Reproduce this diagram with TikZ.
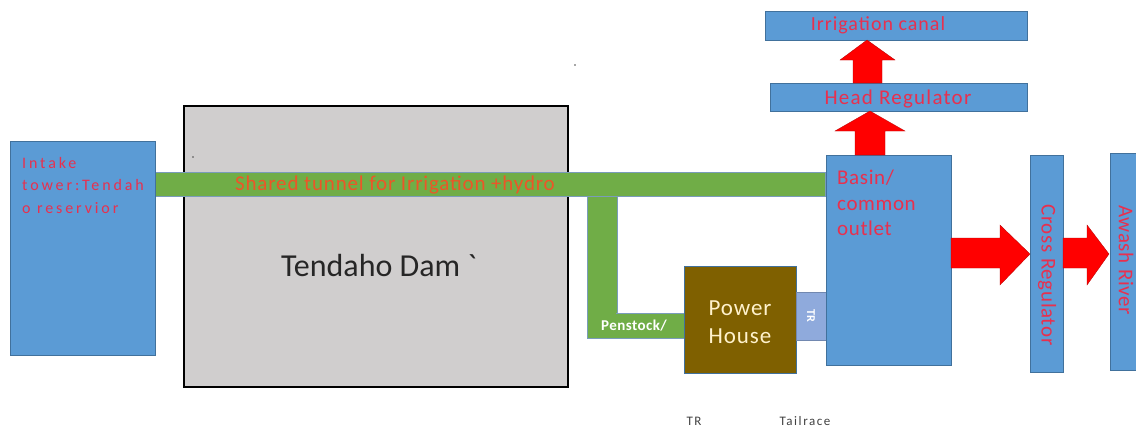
\documentclass[tikz,border=0pt]{standalone}
\usepackage{fontspec}
\setmainfont{Carlito}
\definecolor{boxblue}{RGB}{91,155,213}
\definecolor{edgeblue}{RGB}{65,113,156}
\definecolor{tgreen}{RGB}{112,173,71}
\definecolor{brownph}{RGB}{127,96,0}
\definecolor{damgray}{RGB}{208,206,206}
\definecolor{trblue}{RGB}{143,170,220}
\definecolor{lblred}{RGB}{232,48,78}
\definecolor{tunnelred}{RGB}{236,86,40}
\definecolor{cream}{RGB}{255,242,204}
\definecolor{arrowred}{RGB}{255,0,0}
\newcommand\lsp[1]{\addfontfeature{LetterSpace=#1}}
\tikzset{
  shape box/.style={rectangle, inner sep=0pt, outer sep=0pt, anchor=north west, line width=0.6pt},
  bluebox/.style={shape box, fill=boxblue, draw=edgeblue},
  greenbox/.style={shape box, fill=tgreen, draw=edgeblue!70},
  dambox/.style={shape box, fill=damgray, draw=black, line width=2pt},
  redlbl/.style={text=lblred, inner sep=0pt, align=left},
  blockarrow/.style={fill=arrowred, draw=arrowred!70!black, line width=0.3pt},
}
\begin{document}
\begin{tikzpicture}[x=1pt,y=-1pt]
\useasboundingbox (0,0) rectangle (1136,432);
% dam
\node[dambox, minimum width=384pt, minimum height=281pt] (dam) at (184,106) {};
\node[font=\fontsize{32}{36}\selectfont, text=black!85] (damtxt) at (379,266) {Tendaho Dam {\addfontfeature{Ligatures=TeXOff}`}};
% stray marks
\fill[black!70] (193,157) circle (0.9pt);
\fill[black!70] (575,65) circle (0.9pt);
% tunnel
\node[greenbox, minimum width=670pt, minimum height=24pt] (tunnel) at (155,172) {};
\node[text=tunnelred, font=\fontsize{21}{24}\selectfont\lsp{4}, inner sep=0pt] (tuntxt) at (395,185) {Shared tunnel for Irrigation +hydro};
% intake
\node[bluebox, minimum width=145pt, minimum height=214pt] (intake) at (10,141) {};
\node[redlbl, anchor=north west, font=\fontsize{16}{22.5}\selectfont\lsp{18}] (intaketxt) at ([xshift=12pt,yshift=-16pt]intake.north west) {Intake\\tower:Tendah\\o reservior};
% penstock
\node[greenbox, minimum width=30pt, minimum height=118pt] (pvert) at (587,196) {};
\node[greenbox, minimum width=97pt, minimum height=25pt] (phor) at (587,313) {};
\fill[tgreen] (588,305) rectangle (616,316);
\node[text=white, font=\fontsize{15}{17}\selectfont\bfseries\lsp{3}, inner sep=0pt] (penstxt) at (634,326) {Penstock/};
% power house
\node[shape box, fill=brownph, draw=edgeblue, minimum width=112pt, minimum height=107pt] (ph) at (684,266) {};
\node[text=cream, font=\fontsize{23}{28}\selectfont\lsp{4}, align=center] (phtxt) at (740,322) {Power\\House};
% TR box
\node[shape box, fill=trblue, draw=trblue!80!black, minimum width=30pt, minimum height=48pt] (tr) at (796,292) {};
\node[text=white, font=\fontsize{12}{14}\selectfont\bfseries, rotate=-90] (trtxt) at (tr.center) {TR};
% basin
\node[bluebox, minimum width=125pt, minimum height=210pt] (basin) at (826,155) {};
\node[redlbl, anchor=north west, font=\fontsize{21}{25.5}\selectfont\lsp{3}] (basintxt) at ([xshift=11pt,yshift=-15pt]basin.north west) {Basin/\\common\\outlet};
% head regulator and canal
\node[bluebox, minimum width=257pt, minimum height=28pt] (head) at (770,83) {};
\node[text=lblred, font=\fontsize{21}{24}\selectfont\lsp{6}, inner sep=0pt] (headtxt) at (898,99) {Head Regulator};
\node[bluebox, minimum width=262pt, minimum height=29pt] (canal) at (765,11) {};
\node[text=lblred, font=\fontsize{20}{24}\selectfont\lsp{5}, inner sep=0pt] (canaltxt) at (878,25) {Irrigation canal};
% cross regulator and Awash river
\node[bluebox, minimum width=33pt, minimum height=217pt] (cross) at (1030,155) {};
\node[text=lblred, font=\fontsize{21}{24}\selectfont\lsp{3}, rotate=-90, inner sep=0pt] (crosstxt) at (1047,275) {Cross Regulator};
\node[bluebox, minimum width=30pt, minimum height=217pt] (awash) at (1110,153) {};
\node[text=lblred, font=\fontsize{21}{24}\selectfont\lsp{3}, rotate=-90, inner sep=0pt] (awashtxt) at (1126,260) {Awash River};
% block arrows
\path[blockarrow] (855,155) -- (855,131) -- (835,131) -- (870,111) -- (905,131) -- (885,131) -- (885,155) -- cycle;
\path[blockarrow] (853,83) -- (853,60) -- (840,60) -- (867,40) -- (895,60) -- (882,60) -- (882,83) -- cycle;
\path[blockarrow] (951,238) -- (1000,238) -- (1000,225) -- (1030,254) -- (1000,285) -- (1000,268) -- (951,268) -- cycle;
\path[blockarrow] (1063,238) -- (1087,238) -- (1087,225) -- (1109,254) -- (1087,285) -- (1087,268) -- (1063,268) -- cycle;
% legend
\node[text=black!75, font=\fontsize{13}{15}\selectfont\lsp{12}, inner sep=0pt] (lgtr) at (694,421) {TR};
\node[text=black!75, font=\fontsize{13}{15}\selectfont\lsp{12}, inner sep=0pt] (lgtail) at (805,421) {Tailrace};
\end{tikzpicture}
\end{document}
